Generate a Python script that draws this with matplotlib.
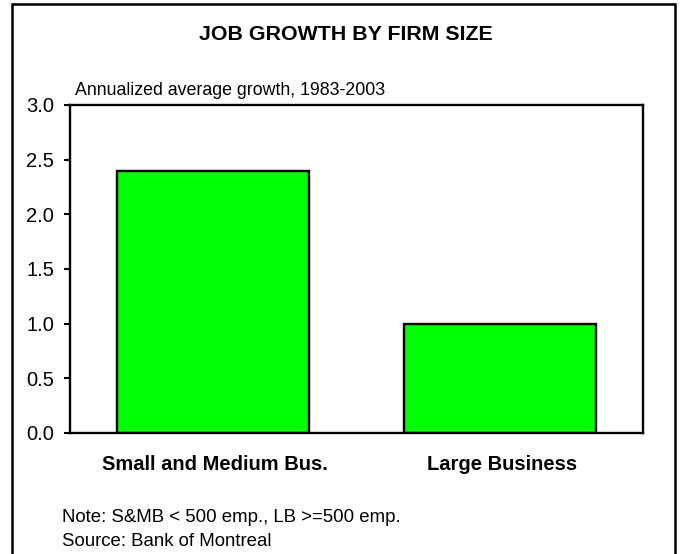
import matplotlib
matplotlib.use("Agg")
import matplotlib.pyplot as plt
from matplotlib.patches import Rectangle

plt.rcParams['font.family'] = ['Liberation Sans', 'DejaVu Sans']

# Dados
categories = ["Small and Medium Bus.", "Large Business"]
growth = [2.4, 1.0]
yticks = [0.0, 0.5, 1.0, 1.5, 2.0, 2.5, 3.0]

fig = plt.figure(figsize=(6.8, 5.54), dpi=100)
ax = fig.add_axes([70 / 680, 121 / 554, 573 / 680, 328 / 554])

x = range(len(categories))
ax.bar(x, growth, width=0.67, color="#00ff00", edgecolor="black", linewidth=1.7)

ax.set_xlim(-0.5, 1.5)
ax.set_ylim(0, 3.0)
ax.set_yticks(yticks)
ax.set_yticklabels([f"{v:.1f}" for v in yticks], fontsize=14.5)
ax.tick_params(axis="y", length=4.5, width=1.5, pad=7, direction="out")
ax.set_xticks([])
for s in ax.spines.values():
    s.set_linewidth(1.7)


def ypos(px):
    # posição vertical em pixels (a partir do topo) -> fração da figura
    return 1 - px / 554


# Rótulos das categorias abaixo do eixo
for i, name in enumerate(categories):
    fig.text((72 + 286.5 * (i + 0.5)) / 680, ypos(470), name,
             ha="center", va="baseline", fontsize=14.5, fontweight="bold")

fig.text(345.5 / 680, ypos(40.5), "JOB GROWTH BY FIRM SIZE",
         ha="center", va="baseline", fontsize=15.4, fontweight="bold")
fig.text(75 / 680, ypos(95), "Annualized average growth, 1983-2003",
         ha="left", va="baseline", fontsize=12.8)
fig.text(62 / 680, ypos(521.5), "Note: S&MB < 500 emp., LB >=500 emp.",
         ha="left", va="baseline", fontsize=13.4)
fig.text(62 / 680, ypos(546), "Source: Bank of Montreal",
         ha="left", va="baseline", fontsize=13.4)

# Moldura externa
fig.patches.append(Rectangle((12 / 680, -0.05), 663 / 680, 1.05 - 4 / 554,
                             transform=fig.transFigure, fill=False,
                             edgecolor="black", linewidth=1.8))

fig.savefig("out.png", dpi=100)
